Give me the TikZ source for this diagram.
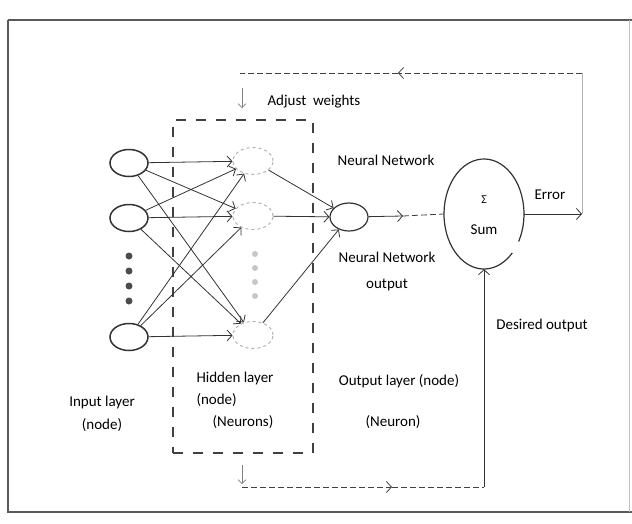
\documentclass[tikz,border=0pt]{standalone}
\usepackage{fontspec}
\setmainfont{Carlito}
\usetikzlibrary{arrows.meta,shapes.geometric}

\begin{document}
\begin{tikzpicture}[x=1pt, y=-1pt,
  font=\fontsize{15}{18}\selectfont,
  inp/.style={draw, line width=1.5pt, black!80, ellipse, minimum width=38pt,
              minimum height=27pt, inner sep=0pt},
  hid/.style={draw=gray!60, dashed, line width=1pt, ellipse, minimum width=40pt,
              minimum height=27pt, inner sep=0pt},
  outn/.style={draw, line width=1.2pt, black!80, ellipse, minimum width=38pt,
               minimum height=28pt, inner sep=0pt},
  hbox/.style={draw, line width=1.3pt, black!75, dash pattern=on 10pt off 10pt,
               minimum width=140pt, minimum height=333pt},
  wire/.style={draw, line width=0.8pt, black!80,
               -{Straight Barb[length=5pt, width=11pt]}},
  fb/.style={draw, line width=0.8pt, black!75, dash pattern=on 6pt off 3pt},
  dot/.style={circle, fill=black!70, inner sep=0pt, minimum size=7pt},
  hdot/.style={circle, fill=gray!45, inner sep=0pt, minimum size=6pt}
]
  \useasboundingbox (0,0) rectangle (632,523);
  \draw[line width=1.2pt, black!65] (8,20) -- (632,20);
  \draw[line width=1.2pt, black!65] (8,20) -- (8,512) -- (632,512);
  \draw[line width=0.4pt, black!25] (629,20) -- (629,512);

  % layers
  \node[inp] (in1) at (129,163) {};
  \node[inp] (in2) at (129,218) {};
  \node[inp] (in3) at (129,337) {};
  \node[hid] (hid1) at (253,161) {};
  \node[hid] (hid2) at (253,216) {};
  \node[hid] (hid3) at (253,335) {};
  \node[outn] (out) at (349,217) {};
  \node[ellipse, minimum width=80pt, minimum height=110pt] (sum) at (484,214) {};
  \draw[line width=1.2pt, black!80] ([shift={(-30:40pt and 55pt)}]sum.center)
    arc[start angle=-30, end angle=315, x radius=40pt, y radius=55pt];
  \node[hbox] (hbox) at (243,286.5) {};

  \foreach \y in {256,271,286,301} \node[dot] at (129,\y) {};
  \foreach \y in {254,268,282,296} \node[hdot] at (255,\y) {};

  % weights
  \foreach \i in {1,2,3}
    \foreach \j in {1,2,3}
      \draw[wire] (in\i) -- (hid\j);
  \foreach \j in {1,2,3}
    \draw[wire] (hid\j) -- (out);

  % output, error and feedback
  \coordinate (omid) at (403,216);
  \coordinate (errc) at (582,214);
  \coordinate (tr) at (582,73);
  \coordinate (tmid) at (398,73);
  \coordinate (tl) at (240,73);
  \coordinate (adj1) at (242,88);
  \coordinate (adj2) at (242,108);
  \coordinate (bd1) at (242,465);
  \coordinate (bd2) at (242,484);
  \coordinate (bl) at (242,487);
  \coordinate (bmid) at (392,487);
  \coordinate (br) at (484,487);

  \draw[wire] (out) -- (omid);
  \draw[fb] (omid) -- (sum.west);
  \draw[wire] (sum.east) -- (errc);
  \draw[line width=0.6pt, gray!60] (errc) -- (tr);
  \draw[fb, -{Straight Barb[length=5pt, width=11pt]}] (tr) -- (tmid);
  \draw[fb] (tmid) -- (tl);
  \draw[line width=0.6pt, gray, -{Straight Barb[length=4pt, width=8pt]}] (adj1) -- (adj2);
  \draw[line width=0.6pt, gray, -{Straight Barb[length=4pt, width=8pt]}] (bd1) -- (bd2);
  \draw[fb, -{Straight Barb[length=5pt, width=11pt]}] (bl) -- (bmid);
  \draw[fb] (bmid) -- (br);
  \draw[wire] (br) -- (sum.south);

  % labels
  \node[anchor=west] (adjust) at (264,102) {Adjust\ \ weights};
  \node (nntop) at (386,160) {Neural Network};
  \node (nnout) at (387,257) {Neural Network};
  \node (nnout2) at (387,285) {output};
  \node[font=\fontsize{12}{14}\selectfont] (sigma) at (484,200) {Σ};
  \node (sumlbl) at (484,230) {Sum};
  \node (err) at (550,195) {Error};
  \node (desired) at (542,325) {Desired output};
  \node (inlbl) at (102,402) {Input layer};
  \node (inlbl2) at (102,425) {(node)};
  \node[anchor=west] (hidlbl) at (193,378) {Hidden layer};
  \node[anchor=west] (hidlbl2) at (193,400) {(node)};
  \node (hidlbl3) at (243,422) {(Neurons)};
  \node (outlbl) at (399,381) {Output layer (node)};
  \node (outlbl2) at (393,422) {(Neuron)};
\end{tikzpicture}
\end{document}
